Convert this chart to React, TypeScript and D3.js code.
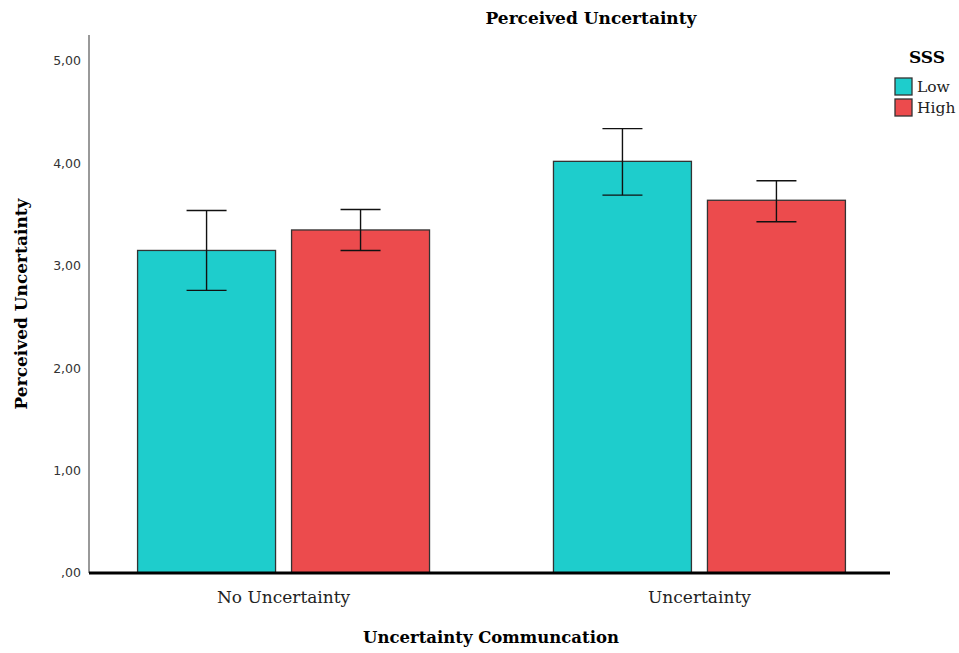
import React, { useRef, useEffect } from "react";
import * as d3 from "d3";

// chart data
const categories = ["No Uncertainty", "Uncertainty"];
const groups = ["Low", "High"];
const lowMeans = [3.15, 4.02];
const highMeans = [3.35, 3.64];
const lowErr = [
  [2.76, 3.54],
  [3.69, 4.34],
];
const highErr = [
  [3.15, 3.55],
  [3.43, 3.83],
];
const yTicks = [0, 1, 2, 3, 4, 5];
const colors = ["#1ecdcc", "#ec4b4d"];

const App = () => {
  const ref = useRef<SVGSVGElement>(null);

  useEffect(() => {
    draw();
  }, []);

  const draw = () => {
    const svg = d3.select(ref.current);
    svg.selectAll("*").remove();

    const left = 89;
    const right = 890;
    const top = 35;
    const bottom = 573;

    const y = d3.scaleLinear().domain([0, 5]).range([bottom, 61]);
    const x0 = d3
      .scaleBand()
      .domain(categories)
      .range([left + 2, right + 2])
      .paddingInner(0.298)
      .paddingOuter(0.112);
    const x1 = d3
      .scaleBand()
      .domain(groups)
      .range([0, x0.bandwidth()])
      .paddingInner(0.104);

    // y axis line
    svg
      .append("line")
      .attr("x1", left)
      .attr("x2", left)
      .attr("y1", top)
      .attr("y2", bottom)
      .attr("stroke", "#999")
      .attr("stroke-width", 2);

    // tick labels
    svg
      .selectAll(".ytick")
      .data(yTicks)
      .enter()
      .append("text")
      .attr("x", left - 8)
      .attr("y", (d) => y(d))
      .attr("dy", "0.35em")
      .attr("text-anchor", "end")
      .attr("font-family", "DejaVu Sans")
      .attr("font-size", "12.5px")
      .attr("fill", "#333")
      .text((d) => (d === 0 ? ",00" : d3.format(".2f")(d).replace(".", ",")));

    const series = [
      { name: groups[0], means: lowMeans, errs: lowErr, color: colors[0] },
      { name: groups[1], means: highMeans, errs: highErr, color: colors[1] },
    ];

    series.forEach((s) => {
      categories.forEach((c, i) => {
        const bx = x0(c)! + x1(s.name)!;
        const bw = x1.bandwidth();
        svg
          .append("rect")
          .attr("x", bx)
          .attr("y", y(s.means[i]))
          .attr("width", bw)
          .attr("height", y(0) - y(s.means[i]))
          .attr("fill", s.color)
          .attr("stroke", "#333")
          .attr("stroke-width", 1.3);

        const cx = bx + bw / 2;
        const [lo, hi] = s.errs[i];
        const g = svg.append("g").attr("stroke", "#111").attr("stroke-width", 1.4);
        g.append("line").attr("x1", cx).attr("x2", cx).attr("y1", y(lo)).attr("y2", y(hi));
        g.append("line").attr("x1", cx - 20).attr("x2", cx + 20).attr("y1", y(lo)).attr("y2", y(lo));
        g.append("line").attr("x1", cx - 20).attr("x2", cx + 20).attr("y1", y(hi)).attr("y2", y(hi));
      });
    });

    // baseline
    svg
      .append("line")
      .attr("x1", left)
      .attr("x2", right)
      .attr("y1", bottom)
      .attr("y2", bottom)
      .attr("stroke", "#000")
      .attr("stroke-width", 3);

    // category labels
    svg
      .selectAll(".xlab")
      .data(categories)
      .enter()
      .append("text")
      .attr("x", (d) => x0(d)! + x0.bandwidth() / 2)
      .attr("y", 603)
      .attr("text-anchor", "middle")
      .attr("font-family", "DejaVu Serif")
      .attr("font-size", "17px")
      .attr("fill", "#222")
      .text((d) => d);

    // titles
    svg
      .append("text")
      .attr("x", 591)
      .attr("y", 24)
      .attr("text-anchor", "middle")
      .attr("font-family", "DejaVu Serif")
      .attr("font-weight", "bold")
      .attr("font-size", "17px")
      .text("Perceived Uncertainty");

    svg
      .append("text")
      .attr("x", 491)
      .attr("y", 643)
      .attr("text-anchor", "middle")
      .attr("font-family", "DejaVu Serif")
      .attr("font-weight", "bold")
      .attr("font-size", "16.5px")
      .text("Uncertainty Communcation");

    svg
      .append("text")
      .attr("transform", "translate(27,304) rotate(-90)")
      .attr("text-anchor", "middle")
      .attr("font-family", "DejaVu Serif")
      .attr("font-weight", "bold")
      .attr("font-size", "17px")
      .text("Perceived Uncertainty");

    // legend
    svg
      .append("text")
      .attr("x", 927)
      .attr("y", 63)
      .attr("text-anchor", "middle")
      .attr("font-family", "DejaVu Serif")
      .attr("font-weight", "bold")
      .attr("font-size", "17px")
      .text("SSS");

    series.forEach((s, i) => {
      svg
        .append("rect")
        .attr("x", 895)
        .attr("y", 78 + i * 21)
        .attr("width", 17)
        .attr("height", 17)
        .attr("fill", s.color)
        .attr("stroke", "#333")
        .attr("stroke-width", 1.3);
      svg
        .append("text")
        .attr("x", 917)
        .attr("y", 87 + i * 21)
        .attr("dy", "0.35em")
        .attr("font-family", "DejaVu Serif")
        .attr("font-size", "15.5px")
        .attr("fill", "#222")
        .text(s.name);
    });
  };

  return (
    <svg
      ref={ref}
      width={959}
      height={653}
      style={{ position: "absolute", left: 0, top: 0, background: "#fff" }}
    ></svg>
  );
};

export default App;
